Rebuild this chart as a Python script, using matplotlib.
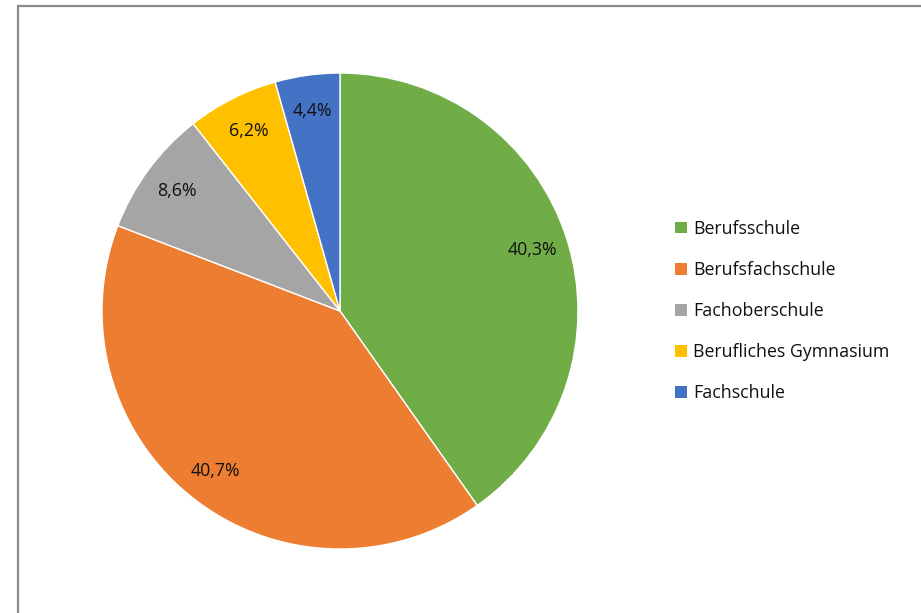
import matplotlib.pyplot as plt
from matplotlib.patches import Rectangle, Patch

# --- Data ---
categories = ["Berufsschule", "Berufsfachschule", "Fachoberschule",
              "Berufliches Gymnasium", "Fachschule"]
shares = [40.3, 40.7, 8.6, 6.2, 4.4]
colors = ["#70AD47", "#ED7D31", "#A5A5A5", "#FFC000", "#4472C4"]

plt.rcParams['font.family'] = ['Open Sans', 'DejaVu Sans']

W, H = 921, 613
fig = plt.figure(figsize=(W / 100, H / 100), dpi=100)

# chart frame (right and bottom edges are cut off in the source)
fig.patches.append(Rectangle((17.5 / W, -0.1), 1.2, 1.1 - 6.5 / H,
                             transform=fig.transFigure, fill=False,
                             edgecolor="#8a8a8a", linewidth=1.6))

cx, cy, r = 340, 311, 238
ax = fig.add_axes([(cx - r) / W, (H - cy - r) / H, 2 * r / W, 2 * r / H])

wedges, texts, autotexts = ax.pie(
    shares, colors=colors, startangle=90, counterclock=False,
    autopct="%1.1f%%", pctdistance=0.85,
    wedgeprops=dict(edgecolor="white", linewidth=1.0),
    textprops=dict(fontsize=12.8, color="#111111"))
# percentages shown as read from the source, with a decimal comma
for t, v in zip(autotexts, shares):
    t.set_text(f"{v:.1f}".replace(".", ",") + "%")
ax.set_xlim(-1, 1)
ax.set_ylim(-1, 1)
ax.set_aspect('auto')
ax.axis('off')

handles = [Patch(facecolor=c, edgecolor="none") for c in colors]
fig.legend(handles, categories, loc="center left",
           bbox_to_anchor=(659 / W, 1 - 311 / H), frameon=False,
           fontsize=12.8, handlelength=0.65, handleheight=0.65,
           handletextpad=0.35, labelspacing=1.3, labelcolor="#111111")

fig.savefig("out.png", dpi=100, facecolor="white")
